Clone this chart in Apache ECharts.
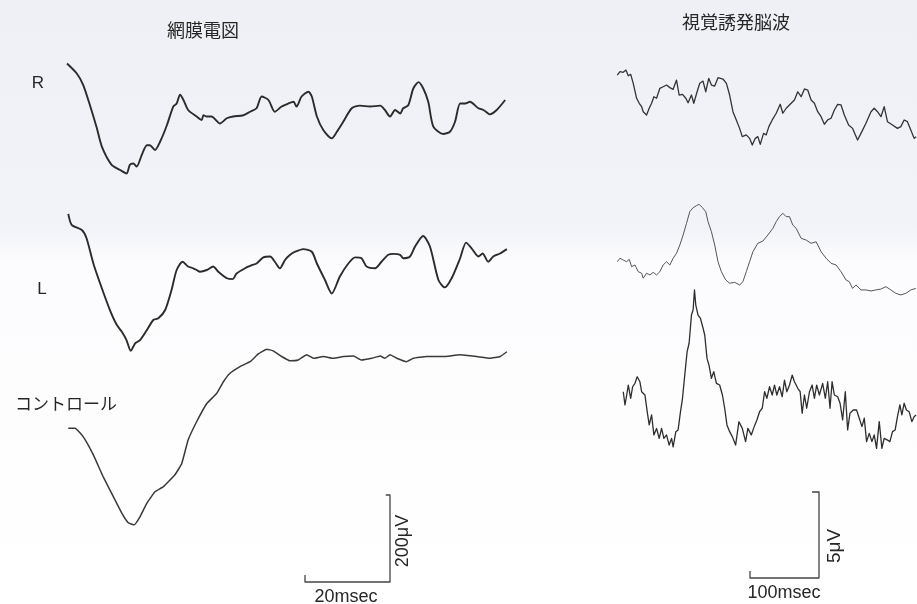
<!DOCTYPE html>
<html>
<head>
<meta charset="utf-8">
<script src="https://cdn.jsdelivr.net/npm/echarts@6/dist/echarts.min.js"></script>
<style>html,body{margin:0;padding:0;background:#fff}#c{width:917px;height:604px}</style>
</head>
<body>
<div id="c"></div>
<script>
// ---- ERG (網膜電図): time in ms, amplitude in μV ----
const ergR = [[0,84],[2.3,61],[3.8,35],[5.4,-12],[7,-64],[8.2,-107],[10.5,-149],[12.5,-161],[14,-169],[14.8,-149],[15.6,-146],[16.4,-153],[17.6,-126],[18.8,-104],[19.5,-104],[20.7,-115],[21.9,-96],[23.5,-58],[25,-15],[25.8,-8],[26.6,12],[27.4,0],[28.5,-23],[30.5,-38],[31.7,-46],[32.1,-35],[32.9,-38],[34,-38],[36,-54],[37.6,-42],[39.1,-38],[41.5,-35],[43.1,-27],[44.6,-19],[45.8,8],[47.4,0],[48.9,-27],[50.5,-15],[52.1,-8],[53.3,-4],[54,-15],[55.2,8],[56.8,19],[57.6,8],[58.8,-38],[60.3,-69],[62.3,-88],[63.5,-73],[65,-50],[67,-19],[68.9,-13],[71.3,-15],[73.7,-13],[74.8,-23],[76,-38],[77.2,-23],[78.4,-31],[79.1,-19],[80.3,-12],[81.5,27],[82.7,41],[83.8,27],[85,-4],[86.2,-61],[88.5,-78],[90.1,-73],[91.3,-50],[92.5,-8],[93.7,-8],[94.8,-4],[96.8,-19],[98,-23],[99.5,-33],[101.1,-23],[103.1,0]];
const ergL = [[0.3,106],[1.1,81],[3.5,69],[4.6,50],[6.2,-8],[8.2,-65],[10.1,-115],[11.7,-149],[12.9,-165],[14,-184],[15,-209],[16,-192],[17.2,-184],[18.8,-161],[20.3,-138],[21.5,-134],[23.1,-115],[24.6,-69],[25.8,-23],[27.2,-4],[28.5,-15],[29.7,-19],[30.5,-23],[31.3,-27],[32.9,-23],[34.4,-15],[35.6,-27],[37.6,-42],[39,-44],[39.9,-31],[41.9,-19],[43.5,-12],[44.6,-8],[46.2,6],[47.8,8],[48.9,-4],[50.1,-19],[51.3,0],[52.5,12],[53.7,19],[55.6,25],[57.6,19],[58.8,-8],[60.7,-46],[62.3,-77],[64.2,-38],[66.2,-8],[67.8,6],[69.3,4],[70.5,-15],[72.5,-19],[74,-4],[75.6,12],[76.8,14],[78.4,12],[79.1,4],[80.7,8],[81.9,31],[83.8,55],[85.4,31],[87.4,-46],[88.9,-63],[90.5,-42],[92.5,4],[93.9,40],[95.2,27],[96.8,8],[97.8,15],[99.1,-4],[100.3,8],[101.9,15],[103.5,25]];
const ergC = [[0.3,-157],[1.9,-157],[3.8,-176],[6.2,-218],[8.5,-268],[10.9,-314],[12.9,-352],[14.4,-374],[15.8,-379],[17.2,-360],[18.8,-329],[20.7,-303],[22.7,-291],[25.4,-264],[27,-238],[28.5,-184],[30.5,-142],[32.9,-100],[35.2,-77],[36.8,-50],[38.3,-31],[40.7,-15],[43.1,-4],[45,14],[47,25],[48.5,21],[50.5,8],[52.5,-2],[54.4,0],[56.4,12],[58,4],[60.3,8],[62.7,4],[65,8],[67.4,9],[69.3,0],[71.7,4],[73.7,9],[74.8,4],[76,12],[77.6,4],[79.9,-4],[81.5,4],[84.6,8],[88.5,8],[92.5,12],[96.4,8],[99.5,4],[101.9,8],[103.5,19]];

// ---- VEP (視覚誘発脳波): time in ms, amplitude in μV ----
const vepR = [[0.4,1.45],[4.3,1.65],[9.1,1.61],[13,1.74],[16.4,1.41],[19.9,1.49],[23.6,0.97],[28.5,0.10],[32.3,-0.19],[35.8,-0.39],[38.1,-0.68],[43,-0.87],[46.8,-0.48],[50.3,-0.19],[53.6,0.19],[57.5,0.10],[62.3,0.68],[67.1,0.77],[72,0.87],[76.8,0.72],[81.6,0.62],[86.5,1.16],[90.3,0.29],[95.2,0.33],[100,0.10],[103.3,-0.16],[108.2,0.29],[111.6,-0.19],[116.4,0.48],[120.3,0.97],[125,1.10],[129,0.48],[133.3,1.26],[137.2,0.87],[142,0.81],[146.8,1.30],[154,1.22],[159,0.97],[163.7,0.29],[168.5,-0.68],[173.4,-1.16],[178.2,-1.65],[182.1,-2.13],[187.9,-2.03],[192.7,-2.23],[196.6,-2.62],[201,-2.23],[204.7,-2.13],[208.2,-2.58],[213,-1.94],[216.9,-2.03],[220.7,-1.55],[225.6,-1.16],[231.4,-0.77],[237.2,-0.25],[241,-0.77],[245.9,-0.48],[253.1,-0.19],[257.9,0],[262.7,0.48],[267.6,0.19],[272.4,0.64],[277.2,0.58],[282.1,0],[286.9,-0.19],[291.7,-0.68],[296.6,-0.97],[301.4,-1.41],[306.2,-1.16],[311.1,-1.06],[315.9,-0.58],[320.7,-0.25],[325.6,-0.29],[330.4,-0.87],[336.6,-1.45],[342.4,-1.65],[349.6,-2.33],[354.6,-1.94],[361.8,-1.35],[369.1,-0.68],[373.8,-0.48],[378.6,-0.68],[383.6,-0.97],[388.3,-0.39],[393.1,-1.26],[400.4,-1.45],[407.6,-1.65],[412.5,-1.55],[417.3,-1.16],[422.1,-1.26],[427,-1.74],[431.8,-2.23],[434.7,-2.13]];
const vepL = [[0.4,-0.10],[4.3,0.10],[9.1,0],[14.1,-0.10],[17.8,0.04],[21.3,-0.39],[26.1,-0.29],[30.9,-0.68],[35.8,-0.77],[38.1,-1.06],[43,-0.77],[47.8,-0.87],[52.6,-0.72],[57.5,-0.87],[62.3,-0.68],[67.1,-0.29],[72,-0.10],[76.8,-0.29],[81.6,0.10],[86.5,0.39],[91.3,0.87],[96.1,1.45],[101,2.13],[105.8,2.81],[110.6,3.04],[115.5,3.16],[119.3,3.24],[124.2,3.04],[129,2.81],[132.3,2.23],[137.2,1.65],[142,0.87],[146.8,-0.10],[151.7,-0.68],[157.9,-1.16],[163.7,-1.35],[171,-1.30],[178.2,-1.45],[183,-1.26],[187.9,-0.68],[192.7,-0.10],[197.5,0.48],[204.7,0.97],[212,1.10],[219.2,1.45],[226.5,1.84],[231.4,2.23],[236.2,2.52],[241,2.72],[245.9,2.52],[250.7,2.52],[255.5,2.03],[260.4,1.84],[267.6,1.26],[274.9,1.16],[282.1,0.97],[289.4,1.06],[296.6,0.48],[303.9,0.10],[311.1,-0.19],[318.4,-0.29],[325.6,-0.68],[332.8,-1.16],[337.6,-1.26],[342.4,-1.65],[347.3,-1.45],[354.6,-1.74],[361.8,-1.74],[369.1,-1.80],[376.3,-1.74],[383.6,-1.69],[390.8,-1.55],[398,-1.74],[405.3,-1.94],[412.5,-2.03],[419.8,-1.94],[427,-1.74],[434.2,-1.65]];
const vepC = [[9.1,0.48],[11.6,-0.29],[14.1,0.29],[16.4,0.87],[19.9,0.10],[22.7,0.77],[26.1,0.97],[29.4,1.35],[33.3,1.06],[35.8,0.48],[40.6,0.29],[43.9,-0.68],[46.8,-1.45],[50.3,-0.87],[53.6,-2.03],[57.5,-1.65],[61.3,-2.23],[64.8,-1.65],[68.1,-2.23],[72,-2.03],[75.8,-2.62],[79.3,-2.23],[81.6,-2.72],[85.5,-1.84],[88.8,-1.74],[92.3,-0.68],[95.2,0.10],[98.5,1.45],[101.9,2.81],[104.8,3.30],[108.2,4.94],[110.6,5.23],[112.6,6.40],[114.5,5.52],[117.8,4.94],[121.3,4.75],[125.1,4.17],[127.5,3.78],[130.8,2.42],[133.7,2.03],[137.2,1.26],[140.6,1.65],[144.5,0.97],[149.2,0.87],[153.2,0.29],[156.5,-0.48],[159.8,-1.45],[163.7,-1.84],[167.6,-2.13],[172.4,-2.62],[177.2,-1.26],[182.1,-1.65],[186.9,-2.42],[190.2,-1.65],[195.2,-2.03],[198.5,-1.65],[203.3,-1.16],[207.2,-0.68],[211.1,-0.48],[214.5,0.48],[217.8,0.10],[221.7,0.77],[225.6,0.29],[228.9,0.87],[232.3,0.29],[236.2,0.77],[240.1,0.19],[243.4,1.16],[246.8,0.48],[250.7,0.87],[254.6,1.45],[257.9,1.06],[262.7,0.68],[266.2,0.48],[269.1,-0.77],[272.4,0.29],[275.7,-0.48],[279.7,0.48],[283.6,0.87],[286.9,0.10],[290.2,0.87],[294.1,0.29],[298.9,0.97],[302.8,0.10],[306.2,1.06],[309.6,-0.48],[312.6,1.06],[315.9,0.29],[320.7,0.19],[324.2,-0.19],[327.9,-1.16],[331.8,0.48],[335.2,-1.74],[338.6,-0.77],[343.4,-0.58],[348.2,-0.58],[352.1,-1.06],[356,-1.55],[359.4,-1.06],[362.7,-2.42],[366.6,-1.94],[370.5,-2.42],[373.8,-2.03],[377.2,-2.81],[381.1,-1.26],[385,-2.81],[388.3,-2.23],[393.1,-2.33],[396.6,-2.42],[400.4,-1.84],[404.3,-1.74],[407.6,-0.97],[411.1,-0.29],[414,-0.87],[417.3,-0.19],[420.6,-0.58],[424.6,-0.68],[428.5,-1.26],[431.8,-0.97],[434.7,-0.87]];

// ---- calibration bars ----
const ergBar = [[0,16],[0,0],[20,0],[20,200],[19,200]];   // 20 ms / 200 μV
const vepBar = [[0,0.4],[0,0],[100,0],[100,5],[90,5]];    // 100 ms / 5 μV

// ---- texts ----
const titles = ['網膜電図', '視覚誘発脳波'];
const rowLabels = ['R', 'L', 'コントロール'];
const barLabels = ['20msec', '200μV', '100msec', '5μV'];

const ergPxMs = 85 / 20, ergPxUv = 87 / 200;
const vepPxMs = 69 / 100, vepPxUv = 86 / 5;

function grid(left, top, xmin, xmax, ymin, ymax, pxX, pxY) {
  return { left: left, top: top, width: (xmax - xmin) * pxX, height: (ymax - ymin) * pxY };
}
const grids = [
  grid(67, 100 - 100 * ergPxUv, 0, 104, -200, 100, ergPxMs, ergPxUv),
  grid(67, 260 - 150 * ergPxUv, 0, 104, -250, 150, ergPxMs, ergPxUv),
  grid(67, 360 - 50 * ergPxUv, 0, 104, -400, 50, ergPxMs, ergPxUv),
  grid(305, 582 - 200 * ergPxUv, 0, 20, 0, 200, ergPxMs, ergPxUv),
  grid(617, 100 - 2 * vepPxUv, 0, 436, -3, 2, vepPxMs, vepPxUv),
  grid(617, 260 - 3.5 * vepPxUv, 0, 436, -2.5, 3.5, vepPxMs, vepPxUv),
  grid(617, 400 - 7 * vepPxUv, 0, 436, -3, 7, vepPxMs, vepPxUv),
  grid(750, 578 - 5 * vepPxUv, 0, 100, 0, 5, vepPxMs, vepPxUv)
];
const xr = [[0,104],[0,104],[0,104],[0,20],[0,436],[0,436],[0,436],[0,100]];
const yr = [[-200,100],[-250,150],[-400,50],[0,200],[-3,2],[-2.5,3.5],[-3,7],[0,5]];
const datas = [ergR, ergL, ergC, ergBar, vepR, vepL, vepC, vepBar];
const widths = [1.9, 1.9, 1.5, 1.3, 1.3, 1.0, 1.3, 1.3];
const smooths = [0.25, 0.25, 0.1, false, false, false, false, false];
const colors = ['#2b2b2b','#2b2b2b','#3a3a3a','#444','#333','#555','#2e2e2e','#444'];

const jpFont = '"Noto Sans CJK JP", "Noto Sans", sans-serif';
const latFont = '"Liberation Sans", Arial, sans-serif';
function txt(text, x, y, size, font, rot) {
  return { type: 'text', x: x, y: y, rotation: rot || 0, z: 10,
    style: { text: text, fill: '#262626', font: size + 'px ' + font, textAlign: 'center', textVerticalAlign: 'middle' } };
}

const chart = echarts.init(document.getElementById('c'), null, { renderer: 'canvas' });
chart.setOption({
  animation: false,
  backgroundColor: '#ffffff',
  grid: grids,
  xAxis: xr.map((r, i) => ({ type: 'value', gridIndex: i, min: r[0], max: r[1], show: false })),
  yAxis: yr.map((r, i) => ({ type: 'value', gridIndex: i, min: r[0], max: r[1], show: false })),
  series: datas.map((d, i) => ({
    type: 'line', xAxisIndex: i, yAxisIndex: i, data: d, symbol: 'none', smooth: smooths[i], clip: false,
    lineStyle: { color: colors[i], width: widths[i], join: 'round' }, z: 5
  })),
  graphic: [
    { type: 'rect', z: -10, shape: { x: 0, y: 0, width: 917, height: 604 },
      style: { fill: new echarts.graphic.LinearGradient(0, 0, 0, 1, [
        { offset: 0, color: '#eff0f5' }, { offset: 0.38, color: '#f2f3f8' },
        { offset: 0.43, color: '#fcfcfe' }, { offset: 1, color: '#ffffff' }]) } },
    txt(titles[0], 203, 30, 18, jpFont),
    txt(titles[1], 736, 22, 18, jpFont),
    txt(rowLabels[0], 38, 83, 17, latFont),
    txt(rowLabels[1], 42, 289, 17, latFont),
    txt(rowLabels[2], 66, 404, 17, jpFont),
    txt(barLabels[0], 346, 597, 18, latFont),
    txt(barLabels[1], 403, 541, 18, latFont, Math.PI / 2),
    txt(barLabels[2], 784, 593, 18, latFont),
    txt(barLabels[3], 835, 546, 19, latFont, Math.PI / 2)
  ]
});
</script>
</body>
</html>
